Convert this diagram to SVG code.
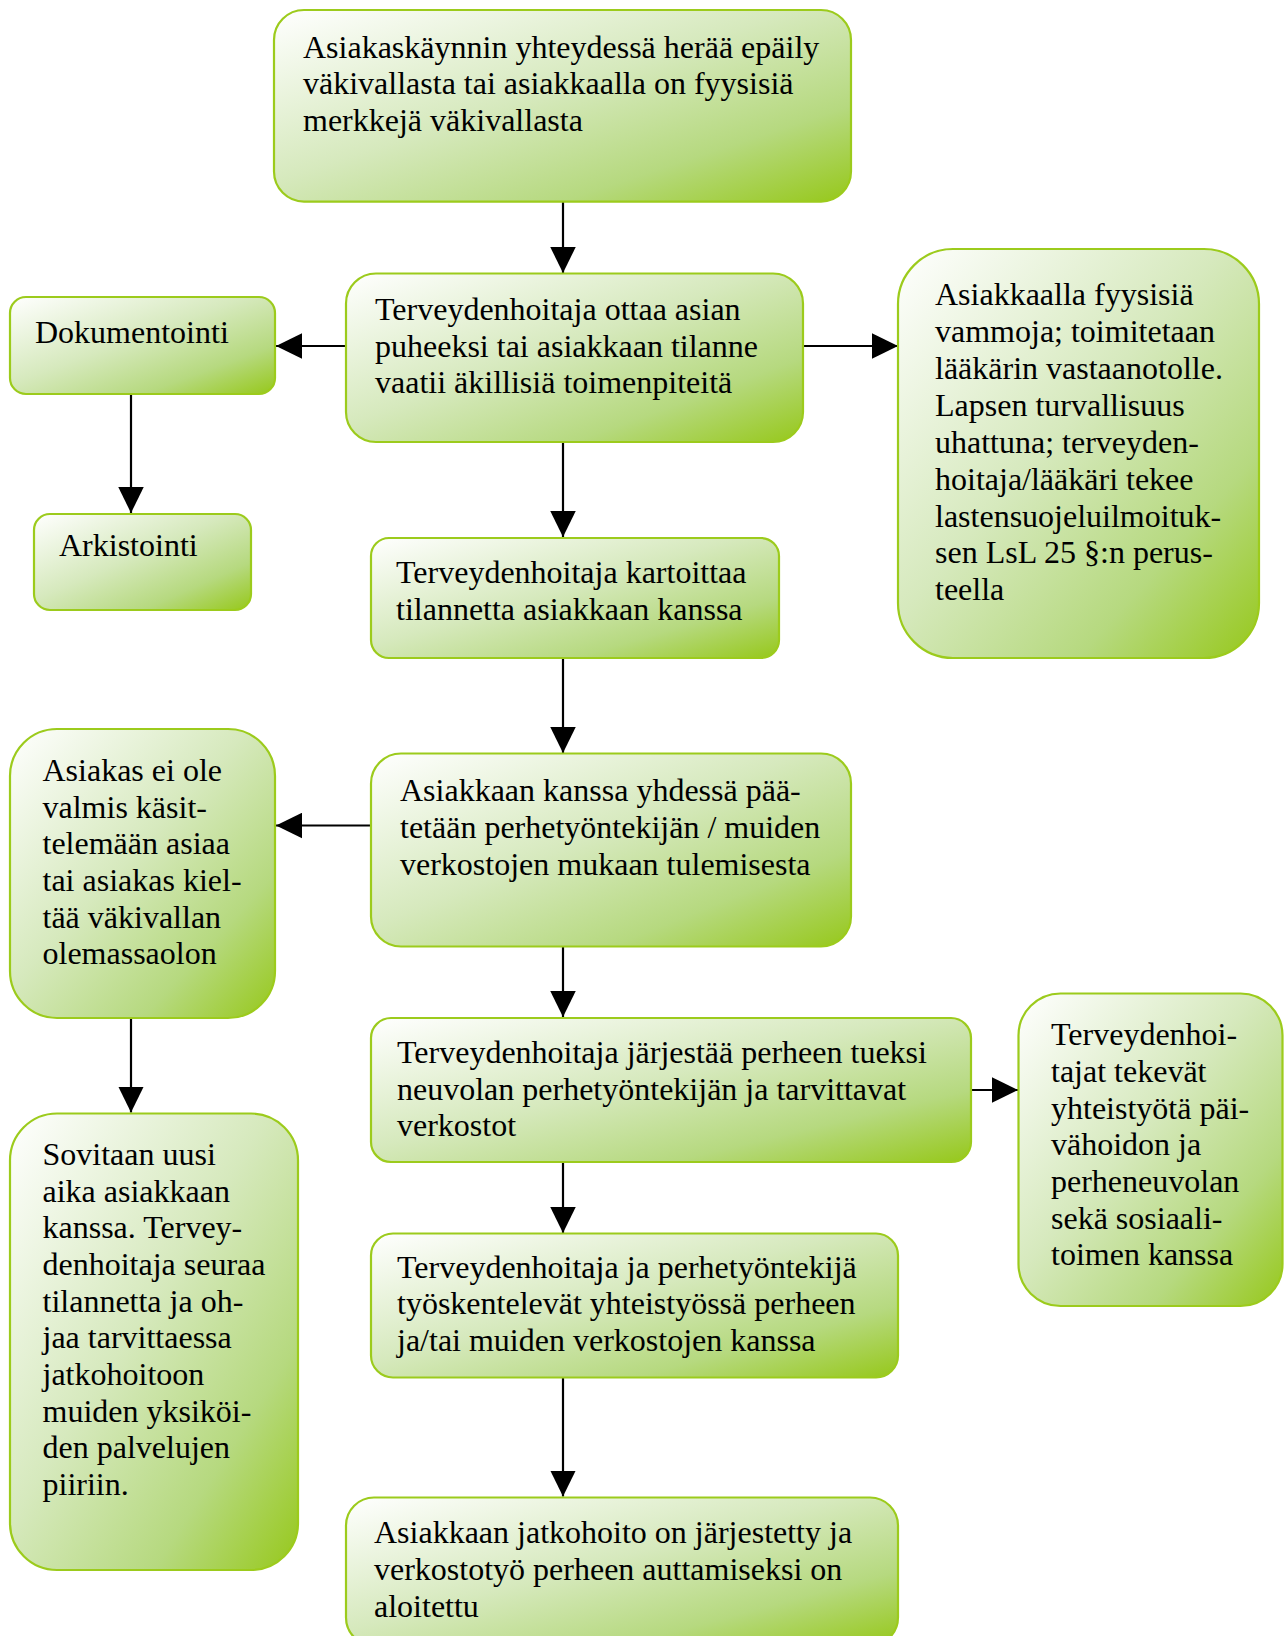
<svg xmlns="http://www.w3.org/2000/svg" width="1284" height="1636" viewBox="0 0 1284 1636">
<style>
.box{fill:url(#g);stroke:#9ccb1c;stroke-width:2.2}
.t{font-family:"Liberation Serif","Times New Roman",serif;font-size:32px;fill:#000}
.c{stroke:#000;stroke-width:2.2;fill:none;marker-end:url(#ah)}
</style>
<defs>
<linearGradient id="g" x1="0" y1="0" x2="1" y2="1">
<stop offset="0" stop-color="#ffffff"/>
<stop offset="0.45" stop-color="#d6e9bd"/>
<stop offset="0.75" stop-color="#b6d97f"/>
<stop offset="1" stop-color="#96c81a"/>
</linearGradient>
<marker id="ah" markerUnits="userSpaceOnUse" markerWidth="26" markerHeight="26" refX="26" refY="12.75" orient="auto" viewBox="0 0 26 25.5">
<path d="M0,0 L26,12.75 L0,25.5 z" fill="#000"/>
</marker>
</defs>
<rect width="1284" height="1636" fill="#fff"/>
<g id="connectors">
<line class="c" x1="563" y1="202" x2="563" y2="273"/>
<line class="c" x1="346" y1="346" x2="276" y2="346"/>
<line class="c" x1="803" y1="346" x2="898" y2="346"/>
<line class="c" x1="131" y1="394" x2="131" y2="513"/>
<line class="c" x1="563" y1="442" x2="563" y2="537"/>
<line class="c" x1="563" y1="658" x2="563" y2="753"/>
<line class="c" x1="371" y1="825.5" x2="276" y2="825.5"/>
<line class="c" x1="563" y1="946.5" x2="563" y2="1017"/>
<line class="c" x1="131" y1="1018" x2="131" y2="1112.5"/>
<line class="c" x1="971" y1="1090" x2="1018" y2="1090"/>
<line class="c" x1="563" y1="1162" x2="563" y2="1233"/>
<line class="c" x1="563" y1="1377.5" x2="563" y2="1496.5"/>
</g>
<g id="n1">
<rect class="box" x="274" y="10" width="577" height="191.6" rx="30"/>
<text class="t" x="303" y="57.5">Asiakaskäynnin yhteydessä herää epäily</text>
<text class="t" x="303" y="94">väkivallasta tai asiakkaalla on fyysisiä</text>
<text class="t" x="303" y="130.5">merkkejä väkivallasta</text>
</g>
<g id="n2">
<rect class="box" x="346" y="273.5" width="457" height="168.5" rx="30"/>
<text class="t" x="375" y="320">Terveydenhoitaja ottaa asian</text>
<text class="t" x="375" y="356.5">puheeksi tai asiakkaan tilanne</text>
<text class="t" x="375" y="393">vaatii äkillisiä toimenpiteitä</text>
</g>
<g id="n3">
<rect class="box" x="10" y="297" width="265" height="97" rx="16"/>
<text class="t" x="35" y="342.5">Dokumentointi</text>
</g>
<g id="n4">
<rect class="box" x="34" y="514" width="217" height="96" rx="16"/>
<text class="t" x="59" y="556">Arkistointi</text>
</g>
<g id="n5">
<rect class="box" x="898" y="249" width="361" height="409" rx="55"/>
<text class="t" x="935" y="305">Asiakkaalla fyysisiä</text>
<text class="t" x="935" y="342">vammoja; toimitetaan</text>
<text class="t" x="935" y="379">lääkärin vastaanotolle.</text>
<text class="t" x="935" y="415.5">Lapsen turvallisuus</text>
<text class="t" x="935" y="452.5">uhattuna; terveyden-</text>
<text class="t" x="935" y="489.5">hoitaja/lääkäri tekee</text>
<text class="t" x="935" y="526.5">lastensuojeluilmoituk-</text>
<text class="t" x="935" y="563">sen LsL 25 §:n perus-</text>
<text class="t" x="935" y="599.5">teella</text>
</g>
<g id="n6">
<rect class="box" x="371" y="538" width="408" height="120" rx="18"/>
<text class="t" x="396" y="583">Terveydenhoitaja kartoittaa</text>
<text class="t" x="396" y="620">tilannetta asiakkaan kanssa</text>
</g>
<g id="n7">
<rect class="box" x="371" y="753.5" width="480" height="193" rx="30"/>
<text class="t" x="400" y="801">Asiakkaan kanssa yhdessä pää-</text>
<text class="t" x="400" y="838">tetään perhetyöntekijän / muiden</text>
<text class="t" x="400" y="875">verkostojen mukaan tulemisesta</text>
</g>
<g id="n8">
<rect class="box" x="10" y="729" width="265" height="289" rx="47"/>
<text class="t" x="42.5" y="781">Asiakas ei ole</text>
<text class="t" x="42.5" y="817.5">valmis käsit-</text>
<text class="t" x="42.5" y="854">telemään asiaa</text>
<text class="t" x="42.5" y="891">tai asiakas kiel-</text>
<text class="t" x="42.5" y="927.5">tää väkivallan</text>
<text class="t" x="42.5" y="964">olemassaolon</text>
</g>
<g id="n9">
<rect class="box" x="371" y="1018" width="600" height="144" rx="20"/>
<text class="t" x="397" y="1063">Terveydenhoitaja järjestää perheen tueksi</text>
<text class="t" x="397" y="1099.5">neuvolan perhetyöntekijän ja tarvittavat</text>
<text class="t" x="397" y="1136">verkostot</text>
</g>
<g id="n10">
<rect class="box" x="1018.5" y="993.5" width="264" height="312.5" rx="42"/>
<text class="t" x="1051" y="1045">Terveydenhoi-</text>
<text class="t" x="1051" y="1082">tajat tekevät</text>
<text class="t" x="1051" y="1118.5">yhteistyötä päi-</text>
<text class="t" x="1051" y="1155">vähoidon ja</text>
<text class="t" x="1051" y="1192">perheneuvolan</text>
<text class="t" x="1051" y="1228.5">sekä sosiaali-</text>
<text class="t" x="1051" y="1265">toimen kanssa</text>
</g>
<g id="n11">
<rect class="box" x="10" y="1113.5" width="288" height="456.5" rx="47"/>
<text class="t" x="42.5" y="1165">Sovitaan uusi</text>
<text class="t" x="42.5" y="1201.5">aika asiakkaan</text>
<text class="t" x="42.5" y="1238">kanssa. Tervey-</text>
<text class="t" x="42.5" y="1275">denhoitaja seuraa</text>
<text class="t" x="42.5" y="1311.5">tilannetta ja oh-</text>
<text class="t" x="42.5" y="1348">jaa tarvittaessa</text>
<text class="t" x="42.5" y="1385">jatkohoitoon</text>
<text class="t" x="42.5" y="1421.5">muiden yksiköi-</text>
<text class="t" x="42.5" y="1458">den palvelujen</text>
<text class="t" x="42.5" y="1495">piiriin.</text>
</g>
<g id="n12">
<rect class="box" x="371" y="1233.5" width="527" height="144" rx="22"/>
<text class="t" x="397" y="1278">Terveydenhoitaja ja perhetyöntekijä</text>
<text class="t" x="397" y="1314">työskentelevät yhteistyössä perheen</text>
<text class="t" x="397" y="1350.5">ja/tai muiden verkostojen kanssa</text>
</g>
<g id="n13">
<rect class="box" x="346" y="1497.5" width="552" height="148" rx="28"/>
<text class="t" x="374" y="1543">Asiakkaan jatkohoito on järjestetty ja</text>
<text class="t" x="374" y="1580">verkostotyö perheen auttamiseksi on</text>
<text class="t" x="374" y="1616.5">aloitettu</text>
</g>
</svg>
